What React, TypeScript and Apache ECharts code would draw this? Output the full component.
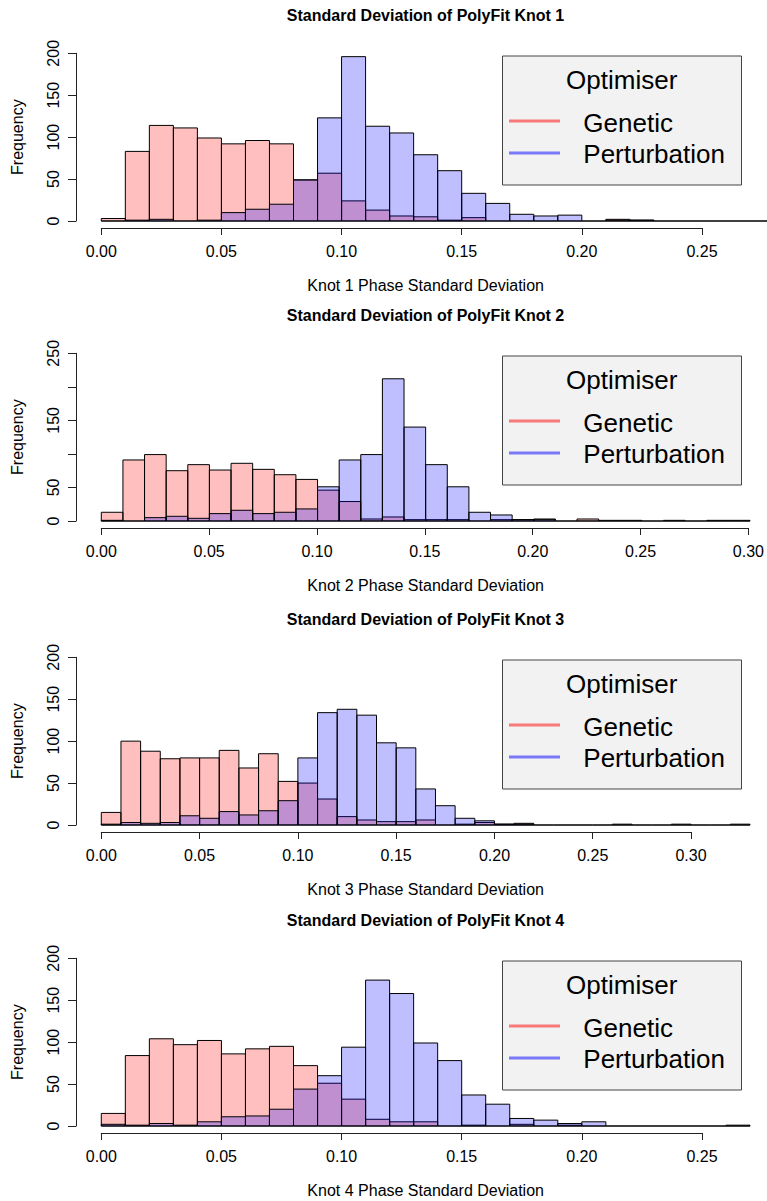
import React, { useEffect, useRef } from "react";
import * as echarts from "echarts";

// ---- data (histogram counts, bins of width 0.01 starting at 0.00) ----
const BIN_WIDTH = 0.01;

const titles = [
  "Standard Deviation of PolyFit Knot 1",
  "Standard Deviation of PolyFit Knot 2",
  "Standard Deviation of PolyFit Knot 3",
  "Standard Deviation of PolyFit Knot 4",
];
const xTitles = [
  "Knot 1 Phase Standard Deviation",
  "Knot 2 Phase Standard Deviation",
  "Knot 3 Phase Standard Deviation",
  "Knot 4 Phase Standard Deviation",
];
const seriesNames = ["Genetic", "Perturbation"];
const legendTitle = "Optimiser";

const genetic1 = [3, 83, 114, 111, 99, 92, 96, 92, 49, 57, 24, 13, 6, 5, 1, 4, 0, 0, 0, 0, 0, 2, 1, 0, 0, 0, 0, 0];
const perturbation1 = [0, 1, 2, 0, 1, 10, 14, 20, 49, 123, 196, 113, 105, 79, 60, 33, 21, 8, 6, 7, 0, 1, 1, 0, 0, 0, 0, 0];

const genetic2 = [13, 91, 99, 75, 84, 76, 86, 77, 69, 62, 46, 29, 3, 6, 2, 2, 2, 0, 2, 2, 3, 0, 3, 1, 1, 0, 1, 0, 1, 1];
const perturbation2 = [1, 0, 5, 7, 4, 11, 16, 11, 13, 18, 51, 91, 99, 212, 140, 84, 51, 13, 9, 2, 2, 0, 0, 0, 0, 0, 0, 0, 0, 0];

const genetic3 = [15, 100, 88, 79, 80, 80, 89, 68, 85, 52, 50, 31, 10, 6, 4, 4, 6, 0, 1, 3, 1, 2, 0, 0, 0, 0, 1, 0, 0, 1, 0, 0, 1];
const perturbation3 = [1, 3, 2, 3, 11, 8, 16, 12, 17, 29, 80, 134, 138, 131, 98, 92, 43, 23, 8, 5, 1, 1, 0, 0, 0, 0, 0, 0, 0, 0, 0, 0, 0];

const genetic4 = [15, 84, 104, 97, 102, 86, 92, 95, 72, 51, 32, 8, 5, 5, 0, 1, 0, 2, 0, 1, 0, 0, 0, 0, 0, 0, 1];
const perturbation4 = [2, 1, 3, 1, 5, 11, 12, 20, 44, 60, 94, 174, 158, 99, 78, 37, 26, 9, 7, 3, 5, 0, 0, 0, 0, 0, 0];

const geneticAll = [genetic1, genetic2, genetic3, genetic4];
const perturbationAll = [perturbation1, perturbation2, perturbation3, perturbation4];

// axis ranges / ticks
const xDataMax = [0.27, 0.3, 0.33, 0.27];
const xLastTick = [0.25, 0.3, 0.3, 0.25];
const xTickStep = 0.05;
const yMax = [200, 250, 200, 200];
const yTickStep = 50;
const yTickLabels = [
  [0, 50, 100, 150, 200],
  [0, 50, 150, 250],
  [0, 50, 100, 150, 200],
  [0, 50, 100, 150, 200],
];

// ---- layout (pixels) ----
const panelOffsets = [0, 300, 604, 905];
const X0 = 101.3; // pixel of x = 0
const DATA_W = 648.7; // pixel width from 0 to xDataMax
const Y0_BASE = 221; // pixel of y = 0 in first panel
const PLOT_H = 167.7;
const YAXIS_OFFSET = 25.3;
const XAXIS_OFFSET = 7;
const FONT = '"Liberation Sans", Arial, sans-serif';

const GEN_FILL = "rgba(255,0,0,0.25)";
const PERT_FILL = "rgba(0,0,255,0.25)";
const GEN_LINE = "rgba(255,0,0,0.5)";
const PERT_LINE = "rgba(0,0,255,0.5)";

function toBins(counts: number[]) {
  return counts.map((c, i) => [+(i * BIN_WIDTH).toFixed(2), +((i + 1) * BIN_WIDTH).toFixed(2), c]);
}

function makeRender(fill: string) {
  return (params: any, api: any) => {
    const a = api.value(0);
    const b = api.value(1);
    const c = api.value(2);
    const p0 = api.coord([a, 0]);
    const p1 = api.coord([b, c]);
    if (!c) {
      return {
        type: "line",
        shape: { x1: p0[0], y1: p0[1], x2: p1[0], y2: p0[1] },
        style: { stroke: "#000", lineWidth: 1 },
      };
    }
    return {
      type: "rect",
      shape: { x: p0[0], y: p1[1], width: p1[0] - p0[0], height: p0[1] - p1[1] },
      style: { fill, stroke: "#000", lineWidth: 1 },
    };
  };
}

function buildOption() {
  const grid: any[] = [];
  const xAxis: any[] = [];
  const yAxis: any[] = [];
  const series: any[] = [];
  const graphic: any[] = [];

  for (let i = 0; i < 4; i++) {
    const off = panelOffsets[i];
    const top = Y0_BASE - PLOT_H + off;
    const axisW = (DATA_W * xLastTick[i]) / xDataMax[i];
    grid.push({ left: X0, top, width: DATA_W, height: PLOT_H, containLabel: false });
    grid.push({ left: X0, top, width: axisW, height: PLOT_H, containLabel: false });
    const gD = 2 * i;
    const gA = 2 * i + 1;
    const shown = yTickLabels[i];

    xAxis.push({
      gridIndex: gD,
      type: "value",
      min: 0,
      max: xDataMax[i],
      axisLine: { show: false, onZero: false },
      axisTick: { show: false },
      axisLabel: { show: false },
      splitLine: { show: false },
      name: xTitles[i],
      nameLocation: "middle",
      nameGap: 56,
      nameTextStyle: { fontSize: 16, color: "#000", fontFamily: FONT },
    });
    xAxis.push({
      gridIndex: gA,
      type: "value",
      min: 0,
      max: xLastTick[i],
      interval: xTickStep,
      offset: XAXIS_OFFSET,
      axisLine: { show: true, onZero: false, lineStyle: { color: "#222", width: 1 } },
      axisTick: { show: true, length: 7, lineStyle: { color: "#222", width: 1 } },
      axisLabel: {
        show: true,
        fontSize: 16,
        color: "#000",
        fontFamily: FONT,
        margin: 15,
        formatter: (v: number) => v.toFixed(2),
      },
      splitLine: { show: false },
    });
    yAxis.push({
      gridIndex: gD,
      type: "value",
      min: 0,
      max: yMax[i],
      interval: yTickStep,
      offset: YAXIS_OFFSET,
      axisLine: { show: true, onZero: false, lineStyle: { color: "#222", width: 1 } },
      axisTick: { show: true, length: 8, lineStyle: { color: "#222", width: 1 } },
      axisLabel: {
        show: true,
        rotate: 90,
        fontSize: 16,
        color: "#000",
        fontFamily: FONT,
        margin: 15,
        formatter: (v: number) => (shown.indexOf(v) >= 0 ? String(v) : ""),
      },
      splitLine: { show: false },
      name: "Frequency",
      nameLocation: "middle",
      nameRotate: 90,
      nameGap: 51,
      nameTextStyle: { fontSize: 16, color: "#000", fontFamily: FONT },
    });
    yAxis.push({
      gridIndex: gA,
      type: "value",
      min: 0,
      max: yMax[i],
      show: false,
      axisLine: { onZero: false },
    });

    series.push({
      type: "custom",
      name: seriesNames[0],
      xAxisIndex: gD,
      yAxisIndex: gD,
      clip: false,
      renderItem: makeRender(GEN_FILL),
      encode: { x: [0, 1], y: 2 },
      data: toBins(geneticAll[i]),
    });
    series.push({
      type: "custom",
      name: seriesNames[1],
      xAxisIndex: gD,
      yAxisIndex: gD,
      clip: false,
      renderItem: makeRender(PERT_FILL),
      encode: { x: [0, 1], y: 2 },
      data: toBins(perturbationAll[i]),
    });

    graphic.push({
      type: "text",
      x: 425.5,
      y: 15 + off,
      style: {
        text: titles[i],
        fill: "#000",
        fontSize: 16,
        fontWeight: "bold",
        fontFamily: FONT,
        align: "center",
        verticalAlign: "middle",
      },
    });

    const lt = 56 + off;
    graphic.push({
      type: "group",
      children: [
        {
          type: "rect",
          shape: { x: 502.5, y: lt, width: 239, height: 129 },
          style: { fill: "#F2F2F2", stroke: "#444", lineWidth: 1 },
        },
        {
          type: "text",
          x: 621.7,
          y: lt + 24,
          style: { text: legendTitle, fill: "#000", fontSize: 26, fontFamily: FONT, align: "center", verticalAlign: "middle" },
        },
        {
          type: "line",
          shape: { x1: 509, y1: lt + 65, x2: 560, y2: lt + 65 },
          style: { stroke: GEN_LINE, lineWidth: 3 },
        },
        {
          type: "text",
          x: 583.3,
          y: lt + 67,
          style: { text: seriesNames[0], fill: "#000", fontSize: 26, fontFamily: FONT, align: "left", verticalAlign: "middle" },
        },
        {
          type: "line",
          shape: { x1: 509, y1: lt + 97, x2: 560, y2: lt + 97 },
          style: { stroke: PERT_LINE, lineWidth: 3 },
        },
        {
          type: "text",
          x: 583.3,
          y: lt + 98,
          style: { text: seriesNames[1], fill: "#000", fontSize: 26, fontFamily: FONT, align: "left", verticalAlign: "middle" },
        },
      ],
    });
  }

  return {
    animation: false,
    backgroundColor: "#fff",
    textStyle: { fontFamily: FONT },
    grid,
    xAxis,
    yAxis,
    series,
    graphic,
  };
}

export default function App() {
  const ref = useRef<HTMLDivElement>(null);
  useEffect(() => {
    if (!ref.current) return;
    const chart = echarts.init(ref.current, undefined, { renderer: "svg" });
    chart.setOption(buildOption() as any);
    return () => chart.dispose();
  }, []);
  return (
    <div
      ref={ref}
      style={{ position: "absolute", left: 0, top: 0, width: 767, height: 1201, background: "#fff" }}
    />
  );
}
